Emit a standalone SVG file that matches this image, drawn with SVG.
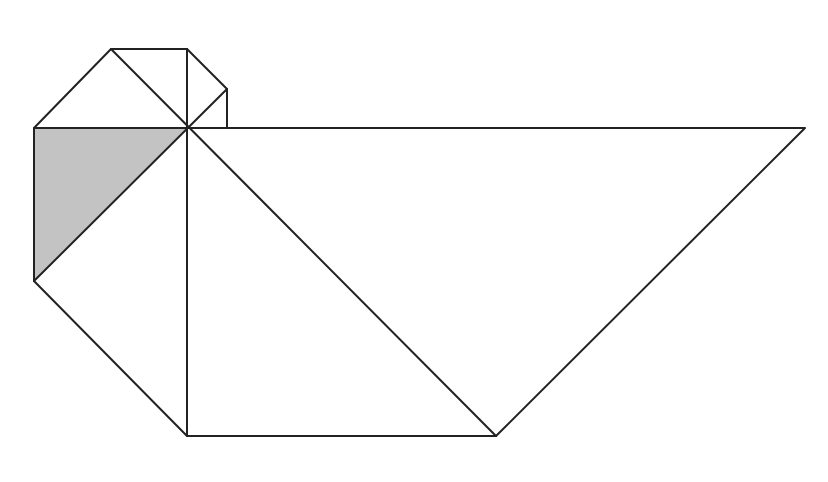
<svg xmlns="http://www.w3.org/2000/svg" width="828" height="482" viewBox="0 0 828 482">
<style>
.l{stroke:#222;stroke-width:2;fill:none;stroke-linecap:round;stroke-linejoin:round}
.g{fill:#c3c3c3;stroke:none}
</style>
<rect width="828" height="482" fill="#fff"/>
<g id="shaded">
<polygon class="g" points="34,128 187,128 34,281"/>
</g>
<g id="connectors">
<path class="l" d="M34,128 L111,49 L187,49 L227,89 L227,128"/>
<path class="l" d="M34,128 L805,128 L496,436 L187,436 L34,281 Z"/>
<path class="l" d="M187,49 L187,436"/>
<path class="l" d="M111,49 L496,436"/>
<path class="l" d="M227,89 L34,281"/>
</g>
</svg>
